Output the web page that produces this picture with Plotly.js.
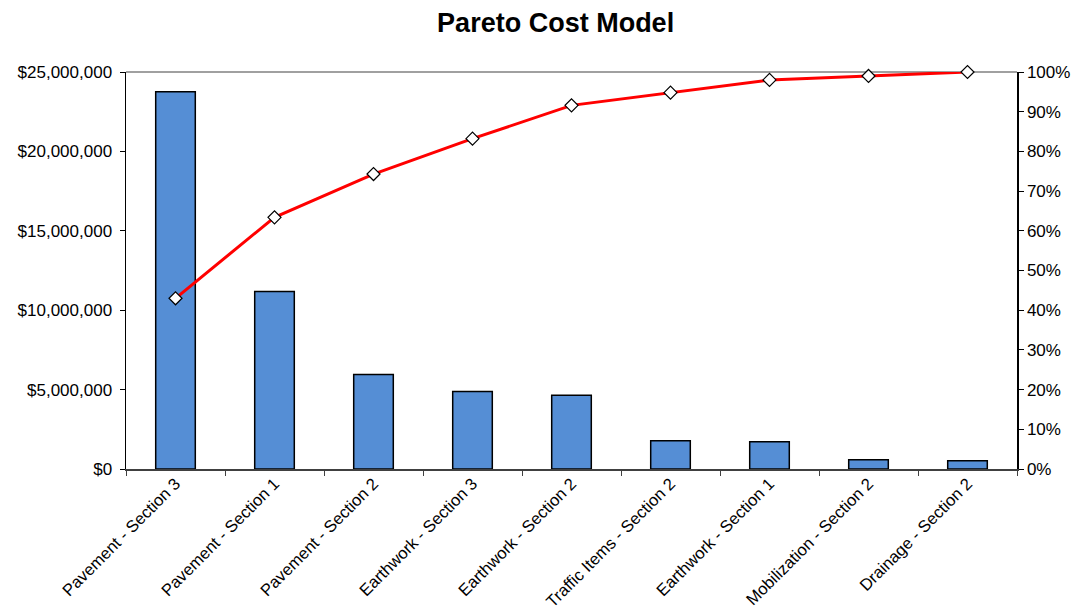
<!DOCTYPE html>
<html>
<head>
<meta charset="utf-8">
<script src="https://cdn.plot.ly/plotly-3.0.1.min.js"></script>
<style>html,body{margin:0;padding:0;background:#fff;}#chart{width:1081px;height:614px;}</style>
</head>
<body>
<div id="chart"></div>
<script>
const categories = [
  "Pavement - Section 3",
  "Pavement - Section 1",
  "Pavement - Section 2",
  "Earthwork - Section 3",
  "Earthwork - Section 2",
  "Traffic Items - Section 2",
  "Earthwork - Section 1",
  "Mobilization - Section 2",
  "Drainage - Section 2"
];
const costs = [23750000, 11180000, 5950000, 4880000, 4640000, 1780000, 1720000, 580000, 520000];
const cumulativePct = [0.430, 0.634, 0.743, 0.832, 0.916, 0.948, 0.980, 0.990, 1.000];
const costTicks = [0, 5000000, 10000000, 15000000, 20000000, 25000000];
const costTickLabels = ["$0", "$5,000,000", "$10,000,000", "$15,000,000", "$20,000,000", "$25,000,000"];
const pctTicks = [0, 0.1, 0.2, 0.3, 0.4, 0.5, 0.6, 0.7, 0.8, 0.9, 1.0];
const pctTickLabels = ["0%", "10%", "20%", "30%", "40%", "50%", "60%", "70%", "80%", "90%", "100%"];

const font = {family: "Liberation Sans, Arial, sans-serif", size: 17, color: "#000"};
const xFont = {family: "Liberation Sans, Arial, sans-serif", size: 16.6, color: "#000"};

const traces = [
  {
    type: "bar", x: categories, y: costs, xaxis: "x", yaxis: "y",
    width: 0.4,
    marker: {color: "#558ED5", line: {color: "#000", width: 1.5}},
    hoverinfo: "x+y"
  },
  {
    type: "scatter", mode: "lines+markers", x: categories, y: cumulativePct,
    xaxis: "x", yaxis: "y2",
    line: {color: "#FF0000", width: 3},
    marker: {symbol: "diamond", size: 10, color: "#fff", line: {color: "#000", width: 1.2}},
    cliponaxis: false
  }
];

const layout = {
  width: 1081, height: 614,
  margin: {l: 126, r: 64, t: 72, b: 145},
  paper_bgcolor: "#fff", plot_bgcolor: "#fff",
  font: font,
  showlegend: false,
  title: {text: "<b>Pareto Cost Model</b>", x: 0.514, xanchor: "center", y: 0.963, yanchor: "middle",
          font: {family: "Liberation Sans, Arial, sans-serif", size: 27, color: "#000"}},
  xaxis: {
    type: "category", showgrid: false, zeroline: false,
    showline: true, linecolor: "#404040", linewidth: 1.5,
    ticks: "outside", ticklen: 5, tickcolor: "#404040", tickwidth: 1,
    tickson: "boundaries", tickangle: -45,
    ticklabelstandoff: -3,
    tickfont: xFont, range: [-0.5, 8.5]
  },
  xaxis2: {
    type: "linear", overlaying: "x", range: [-0.5, 8.5], tick0: -0.5, dtick: 1,
    ticks: "inside", ticklen: 5, tickcolor: "#404040", tickwidth: 1,
    showticklabels: false, showgrid: false, zeroline: false, showline: false, side: "bottom"
  },
  yaxis: {
    range: [0, 25000000], tickmode: "array", tickvals: costTicks, ticktext: costTickLabels,
    showgrid: false, zeroline: false,
    showline: true, linecolor: "#000", linewidth: 1.5,
    ticks: "outside", ticklen: 5, tickcolor: "#000", tickwidth: 1,
    ticklabelstandoff: 4,
    tickfont: font
  },
  yaxis3: {
    overlaying: "y", range: [0, 25000000], tickmode: "array", tickvals: costTicks,
    ticks: "inside", ticklen: 5, tickcolor: "#000", tickwidth: 1,
    showticklabels: false, showgrid: false, zeroline: false, showline: false, side: "left"
  },
  yaxis2: {
    overlaying: "y", side: "right", range: [0, 1], tickmode: "array", tickvals: pctTicks, ticktext: pctTickLabels,
    showgrid: false, zeroline: false,
    showline: true, linecolor: "#000", linewidth: 1.5,
    ticks: "outside", ticklen: 5, tickcolor: "#000", tickwidth: 1,
    tickfont: font
  },
  yaxis4: {
    overlaying: "y", side: "right", range: [0, 1], tickmode: "array", tickvals: pctTicks,
    ticks: "inside", ticklen: 5, tickcolor: "#000", tickwidth: 1,
    showticklabels: false, showgrid: false, zeroline: false, showline: false
  },
  shapes: [
    {type: "line", xref: "paper", yref: "paper", x0: 0, x1: 1, y0: 1, y1: 1,
     line: {color: "#808080", width: 1.5}, layer: "below"}
  ]
};

Plotly.newPlot("chart", traces, layout, {displayModeBar: false, staticPlot: true});
</script>
</body>
</html>
